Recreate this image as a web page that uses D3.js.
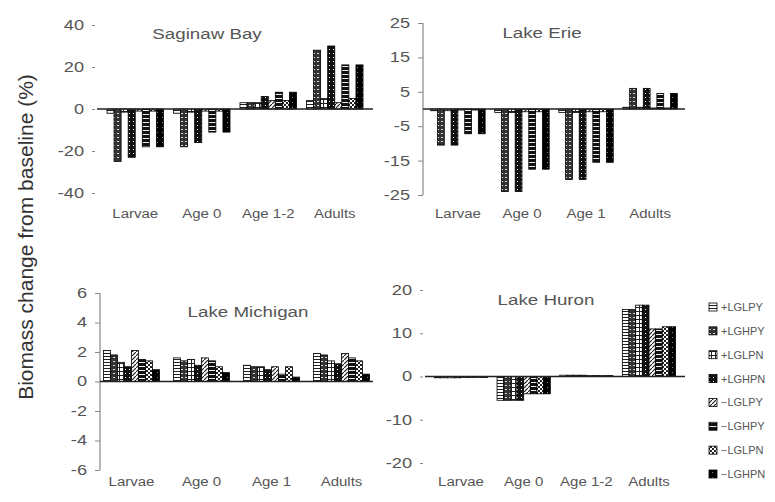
<!DOCTYPE html>
<html>
<head>
<meta charset="utf-8">
<script src="https://cdn.jsdelivr.net/npm/d3@7"></script>
<style>
    body { margin: 0; background: #fff; }
    text { font-family: Arial, "Liberation Sans", sans-serif; }
</style>
</head>
<body>
<div id="chart"></div>
<script>
// scenario names, one per bar in each group
const seriesNames = ["+LGLPY", "+LGHPY", "+LGLPN", "+LGHPN", "\u2212LGLPY", "\u2212LGHPY", "\u2212LGLPN", "\u2212LGHPN"];

const saginawCategories = ["Larvae", "Age 0", "Age 1-2", "Adults"];
const erieCategories = ["Larvae", "Age 0", "Age 1", "Adults"];
const michiganCategories = ["Larvae", "Age 0", "Age 1", "Adults"];
const huronCategories = ["Larvae", "Age 0", "Age 1-2", "Adults"];

// values: one row per category, 8 scenarios each
const saginawValues = [
    [-2, -25, -1.5, -23, -1, -18, -1, -18],
    [-2, -18, -1.5, -16, -1, -11, -1, -11],
    [3, 3, 3, 6, 4, 8, 4, 8],
    [4, 28, 5, 30, 3, 21, 5, 21]
];
const erieValues = [
    [-0.5, -10.5, -0.5, -10.5, -0.3, -7.2, -0.3, -7.2],
    [-1, -24, -1, -24, -0.8, -17.5, -0.8, -17.5],
    [-1, -20.5, -1, -20.5, -0.8, -15.5, -0.8, -15.5],
    [0.5, 6, 0.5, 6, 0.3, 4.5, 0.3, 4.5]
];
const michiganValues = [
    [2.1, 1.8, 1.3, 1.0, 2.1, 1.5, 1.4, 0.8],
    [1.6, 1.4, 1.5, 1.1, 1.6, 1.4, 1.0, 0.6],
    [1.1, 1.0, 1.0, 0.8, 1.0, 0.5, 1.0, 0.3],
    [1.9, 1.8, 1.4, 1.2, 1.9, 1.6, 1.4, 0.5]
];
const huronValues = [
    [-0.3, -0.3, -0.3, -0.3, -0.2, -0.2, -0.2, -0.2],
    [-5.5, -5.5, -5.5, -5.5, -4, -4, -4, -4],
    [0.3, 0.3, 0.3, 0.3, 0.2, 0.2, 0.2, 0.2],
    [15.5, 15.5, 16.5, 16.5, 11, 11, 11.5, 11.5]
];

const saginawTicks = [40, 20, 0, -20, -40];
const erieTicks = [25, 15, 5, -5, -15, -25];
const michiganTicks = [6, 4, 2, 0, -2, -4, -6];
const huronTicks = [20, 10, 0, -10, -20];

const width = 775;
const height = 502;

const svg = d3.select("#chart").append("svg")
    .attr("width", width)
    .attr("height", height);

const defs = svg.append("defs");

// the source picture is stretched sideways, so text is too
function stretch(selection, factor) {
    selection.each(function () {
        const t = d3.select(this);
        const x = +t.attr("x") || 0;
        t.attr("x", x / factor).attr("transform", `scale(${factor},1)`);
    });
}

// black & white fills like the old spreadsheet chart
function makePatterns() {
    const p = (id, size, bg) => {
        const pat = defs.append("pattern")
            .attr("id", id)
            .attr("patternUnits", "userSpaceOnUse")
            .attr("width", size)
            .attr("height", size);
        pat.append("rect").attr("width", size).attr("height", size).attr("fill", bg);
        return pat;
    };

    // 0: horizontal stripes
    p("pat0", 3, "#fff").append("rect").attr("y", 2).attr("width", 3).attr("height", 1).attr("fill", "#222");

    // 1: dark with light dashes
    const p1 = p("pat1", 4, "#333");
    p1.append("rect").attr("x", 1).attr("y", 1).attr("width", 2).attr("height", 1).attr("fill", "#ddd");

    // 2: grid
    const p2 = p("pat2", 4, "#fff");
    p2.append("rect").attr("y", 3).attr("width", 4).attr("height", 1).attr("fill", "#222");
    p2.append("rect").attr("x", 3).attr("width", 1).attr("height", 4).attr("fill", "#222");

    // 3: black with white dots
    p("pat3", 4, "#111").append("rect").attr("x", 1).attr("y", 1).attr("width", 1).attr("height", 1).attr("fill", "#fff");

    // 4: diagonal
    p("pat4", 4, "#fff").append("path").attr("d", "M0,4 L4,0").attr("stroke", "#222").attr("stroke-width", 1.2);

    // 5: black with white stripes
    p("pat5", 4, "#111").append("rect").attr("y", 2).attr("width", 4).attr("height", 1).attr("fill", "#eee");

    // 6: checker
    const p6 = p("pat6", 4, "#fff");
    p6.append("rect").attr("width", 2).attr("height", 2).attr("fill", "#222");
    p6.append("rect").attr("x", 2).attr("y", 2).attr("width", 2).attr("height", 2).attr("fill", "#222");

    // 7: nearly solid black
    p("pat7", 5, "#000").append("rect").attr("x", 2).attr("y", 2).attr("width", 1).attr("height", 1).attr("fill", "#888");
}

function drawPanel(panel) {
    const g = svg.append("g");

    const y = d3.scaleLinear()
        .domain(panel.domain)
        .range([panel.bottom, panel.top]);

    const x = d3.scaleBand()
        .domain(panel.categories)
        .range([panel.left, panel.right])
        .paddingInner(panel.padInner)
        .paddingOuter(panel.padOuter);

    const xInner = d3.scaleBand()
        .domain(d3.range(seriesNames.length))
        .range([0, x.bandwidth()]);

    // y axis
    const yAxis = d3.axisLeft(y)
        .tickValues(panel.ticks)
        .tickFormat(d => String(d))
        .tickSize(6)
        .tickPadding(7);

    const axisG = g.append("g")
        .attr("transform", `translate(${panel.left},0)`)
        .call(yAxis);
    axisG.select(".domain")
        .attr("stroke", "#888")
        .attr("stroke-width", 1.2)
        .attr("d", `M0,${panel.top}V${panel.bottom}`)
        .attr("display", panel.axisLine ? null : "none");
    axisG.selectAll(".tick line").attr("stroke", "#888").attr("x2", -5).attr("x1", panel.axisLine ? 0 : -2);
    const tickText = axisG.selectAll(".tick text")
        .attr("fill", "#555")
        .style("font-size", "14px");
    stretch(tickText, 1.3);

    // title
    const title = g.append("text")
        .attr("x", panel.titleX)
        .attr("y", panel.titleY)
        .attr("text-anchor", "middle")
        .attr("fill", "#555")
        .style("font-size", "15px")
        .text(panel.title);
    stretch(title, 1.25);

    // bars
    panel.values.forEach((row, ci) => {
        g.selectAll(null)
            .data(row)
            .enter()
            .append("rect")
            .attr("x", (d, i) => x(panel.categories[ci]) + xInner(i))
            .attr("width", xInner.bandwidth())
            .attr("y", d => y(Math.max(0, d)))
            .attr("height", d => Math.abs(y(d) - y(0)))
            .attr("fill", (d, i) => `url(#pat${i})`)
            .attr("stroke", "#000")
            .attr("stroke-width", 0.8);
    });

    // zero line
    g.append("line")
        .attr("x1", panel.left)
        .attr("x2", panel.right)
        .attr("y1", y(0))
        .attr("y2", y(0))
        .attr("stroke", "#222")
        .attr("stroke-width", 1.5);

    // category labels
    const catLabels = g.selectAll(null)
        .data(panel.categories)
        .enter()
        .append("text")
        .attr("x", d => x(d) + x.bandwidth() / 2)
        .attr("y", panel.labelY)
        .attr("text-anchor", "middle")
        .attr("fill", "#555")
        .style("font-size", "12px")
        .text(d => d);
    stretch(catLabels, 1.25);
}

function drawLegend() {
    const legendY = d3.scalePoint()
        .domain(seriesNames)
        .range([307, 474]);

    const lg = svg.append("g");
    seriesNames.forEach((name, i) => {
        lg.append("rect")
            .attr("x", 709)
            .attr("y", legendY(name) - 4)
            .attr("width", 8)
            .attr("height", 8)
            .attr("fill", `url(#pat${i})`)
            .attr("stroke", "#000")
            .attr("stroke-width", 0.8);
        const label = lg.append("text")
            .attr("x", 721)
            .attr("y", legendY(name) + 4)
            .attr("fill", "#555")
            .style("font-size", "10px")
            .text(name);
        stretch(label, 1.1);
    });
}

makePatterns();

drawPanel({
    title: "Saginaw Bay", titleX: 207, titleY: 39,
    categories: saginawCategories, values: saginawValues,
    ticks: saginawTicks, domain: [-40, 40], padInner: 0.15, padOuter: 0.15,
    left: 97, right: 373, top: 25, bottom: 193, labelY: 218, axisLine: false
});

drawPanel({
    title: "Lake Erie", titleX: 542, titleY: 38,
    categories: erieCategories, values: erieValues,
    ticks: erieTicks, domain: [-25, 25], padInner: 0.15, padOuter: 0.12,
    left: 423, right: 685, top: 23, bottom: 195, labelY: 218, axisLine: true
});

drawPanel({
    title: "Lake Michigan", titleX: 248, titleY: 317,
    categories: michiganCategories, values: michiganValues,
    ticks: michiganTicks, domain: [-6, 6], padInner: 0.2, padOuter: 0.05,
    left: 100, right: 373, top: 293, bottom: 470, labelY: 486, axisLine: true
});

drawPanel({
    title: "Lake Huron", titleX: 546, titleY: 305,
    categories: huronCategories, values: huronValues,
    ticks: huronTicks, domain: [-20, 20], padInner: 0.15, padOuter: 0.15,
    left: 425, right: 685, top: 290, bottom: 463, labelY: 486, axisLine: false
});

drawLegend();

// shared y label
svg.append("text")
    .attr("transform", "translate(33,237) rotate(-90)")
    .attr("text-anchor", "middle")
    .attr("fill", "#333")
    .style("font-size", "21px")
    .text("Biomass change from baseline (%)");
</script>
</body>
</html>
